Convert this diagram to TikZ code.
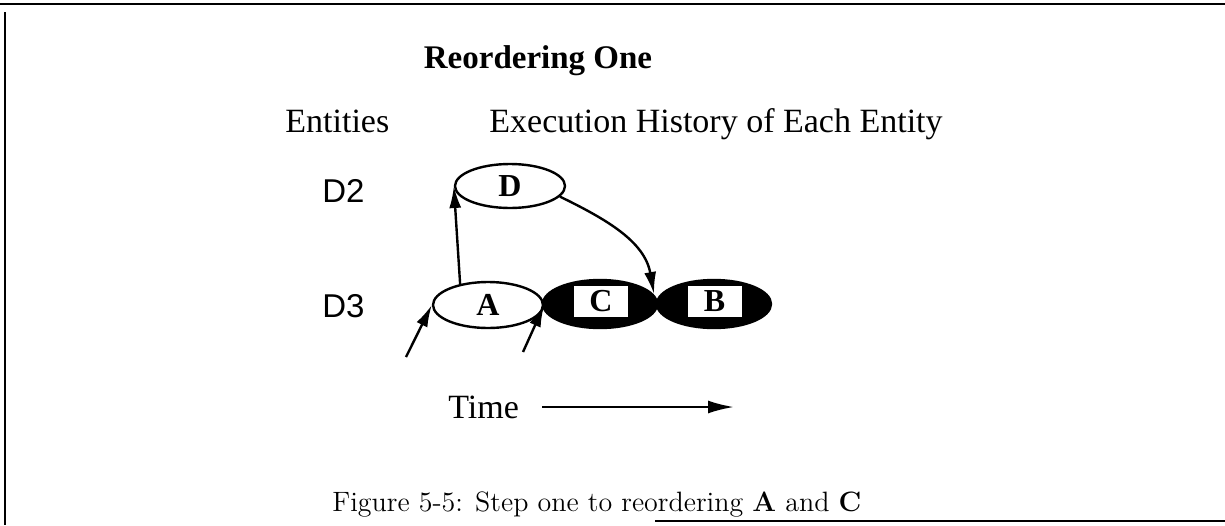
\documentclass[tikz,border=0pt]{standalone}
\usepackage{fontspec}
\newfontfamily\tmsfont{Liberation Serif}
\newfontfamily\hvfont{Liberation Sans}
\usetikzlibrary{shapes.geometric,arrows.meta}
\begin{document}
\begin{tikzpicture}[x=0.5pt,y=-0.5pt,
  lbl/.style={inner sep=0pt,anchor=base west},
  frameline/.style={line width=0.9pt},
  ev/.style={ellipse,draw,line width=1.2pt,inner sep=0pt,font=\tmsfont\bfseries\fontsize{16}{18}\selectfont},
  openev/.style={ev,fill=white},
  blackev/.style={ev,fill=black},
  whitebox/.style={rectangle,fill=white,inner sep=0pt,minimum width=27pt,minimum height=15.5pt,font=\tmsfont\bfseries\fontsize{16}{18}\selectfont},
  conn/.style={line width=1.2pt,-{Latex[length=11pt,width=6pt]}},
  timearrow/.style={line width=1.2pt,-{Latex[length=13pt,width=6.5pt]}}
]
\useasboundingbox (0,0) rectangle (1225,525);
% page frame fragments
\draw[frameline] (0,4) -- (1225,4);
\draw[frameline] (5,12) -- (5,525);
\draw[frameline] (655,521) -- (1225,521);

% texts
\node[inner sep=0pt,anchor=base] (title) at (538,68) {\tmsfont\bfseries\fontsize{16.5}{19}\selectfont Reordering One};
\node[lbl] (entities) at (285,132) {\tmsfont\fontsize{17}{20}\selectfont Entities};
\node[lbl] (history) at (489,132) {\tmsfont\fontsize{17}{20}\selectfont Execution History of Each Entity};
\node[lbl] (d2) at (322,202) {\hvfont\fontsize{16.5}{19}\selectfont D2};
\node[lbl] (d3) at (322,317) {\hvfont\fontsize{16.5}{19}\selectfont D3};

% events
\node[openev,minimum width=55pt,minimum height=22pt] (D) at (510,186) {D};
\node[openev,minimum width=55pt,minimum height=23pt] (A) at (488,305) {A};
\node[blackev,minimum width=57pt,minimum height=24pt] (C) at (600,304) {};
\node[blackev,minimum width=57pt,minimum height=24pt] (B) at (714,304) {};
\node[whitebox] (Cl) at (601,301.5) {C};
\node[whitebox] (Bl) at (714.5,301.5) {B};

% connectors
\coordinate (a1) at (406,357);
\coordinate (a2) at (523,352);
\coordinate (jCB) at (654,294);
\draw[conn] (a1) -- (A.west);
\draw[conn] (a2) -- (A.east);
\draw[conn] (A.143) -- (D.west);
\draw[conn] (D.-12) to[out=-26,in=100] (jCB);

% time axis
\node[lbl] (time) at (448,418) {\tmsfont\fontsize{17}{20}\selectfont Time};
\coordinate (t1) at (542,407);
\coordinate (t2) at (734,407);
\draw[timearrow] (t1) -- (t2);

% caption
\node[lbl] (caption) at (332,511) {\fontsize{14}{17}\selectfont Figure 5-5: Step one to reordering \textbf{A} and \textbf{C}};
\end{tikzpicture}
\end{document}
